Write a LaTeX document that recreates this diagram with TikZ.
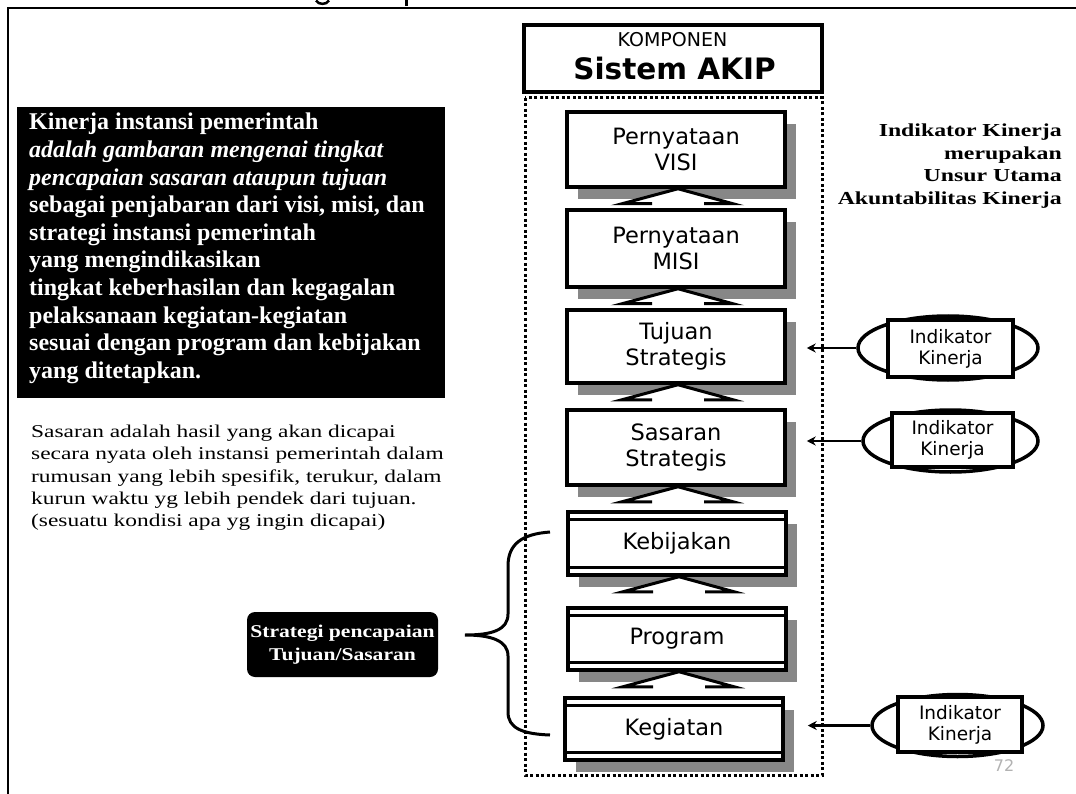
\documentclass[tikz,border=0pt]{standalone}
\usepackage{fontspec}
\setmainfont{Liberation Serif}
\newfontfamily\vsans{DejaVu Sans}
\newfontfamily\wideserif[FakeStretch=1.3]{Liberation Serif}
\newfontfamily\midserif[FakeStretch=1.2]{Liberation Serif}
\usetikzlibrary{shapes.geometric,arrows.meta,calc,shadows}
\definecolor{shgray}{RGB}{135,135,135}
\begin{document}
\begin{tikzpicture}[x=1pt,y=-1pt,
  stagebox/.style={draw, line width=3.5, fill=white, minimum width=218, minimum height=#1,
    inner sep=0, font=\vsans\fontsize{22.5}{25.5}\selectfont, align=center,
    general shadow={fill=shgray, shadow xshift=11pt, shadow yshift=-12pt}},
  uparrow/.style={draw, line width=3, fill=white, line join=miter},
  indell/.style={draw, ellipse, line width=3.5, fill=white, inner sep=0},
  indrect/.style={draw, rectangle, line width=3.5, fill=white, inner sep=0,
    font=\vsans\fontsize{18.5}{21}\selectfont, align=center},
  indarrow/.style={line width=2.5, -{Stealth[length=9pt,width=9pt]}},
  innerline/.style={line width=3}
]
\useasboundingbox (0,0) rectangle (1076,794);
\fill[white] (0,0) rectangle (1076,794);
% frame
\draw[line width=2] (8,794) -- (8,8) -- (1076,8);
% cut-off title descenders
\draw[line width=2.5] (316,0.5) .. controls (318,5) and (327,5) .. (329,0.5);
\draw[line width=3] (406,0) -- (406,6);

% KOMPONEN header
\node[draw, line width=4, minimum width=298, minimum height=67, inner sep=0]
  (komp) at (672.5,58.5) {};
\node[font=\vsans\fontsize{19}{19}\selectfont] (kompt) at (672.5,39.5) {KOMPONEN};
\node[font=\vsans\bfseries\fontsize{29.5}{29.5}\selectfont] (akip) at (674.5,69) {Sistem AKIP};

% dotted frame
\draw[line width=3, dash pattern=on 3pt off 2.5pt] (525,98) rectangle (822,775);

% stage boxes
\node[stagebox=75] (visi) at (676,149.5) {Pernyataan\\VISI};
\node[stagebox=77] (misi) at (676,248.5) {Pernyataan\\MISI};
\node[stagebox=73] (tujuan) at (676,346.5) {Tujuan\\Strategis};
\node[stagebox=75] (sasaran) at (676,447.5) {Sasaran\\Strategis};
\node[stagebox=63] (kebijakan) at (677,543.5) {Kebijakan};
\node[stagebox=62] (program) at (677,639) {Program};
\node[stagebox=62] (kegiatan) at (674,729) {Kegiatan};
\foreach \b in {kebijakan,program,kegiatan}{
  \draw[innerline] ([yshift=-9.5]\b.north west) -- ([yshift=-9.5]\b.north east);
  \draw[innerline] ([yshift=9.5]\b.south west) -- ([yshift=9.5]\b.south east);
}

% up arrows
\foreach \lo/\hi in {misi/visi,tujuan/misi,sasaran/tujuan,kebijakan/sasaran,program/kebijakan,kegiatan/program}{
  \draw[uparrow] ($(\hi.south)+(-24,15)$ |- \lo.north) -- ($(\hi.south)+(-24,15)$)
    -- ($(\hi.south)+(-54,15)$) -- ($(\hi.south)+(2,0)$) -- ($(\hi.south)+(57,15)$)
    -- ($(\hi.south)+(28,15)$) -- ($(\hi.south)+(28,15)$ |- \lo.north);
}

% indicator shapes
\node[indell, minimum width=180, minimum height=64] (ind1e) at (948,348) {};
\node[indrect, minimum width=125, minimum height=57] (ind1) at (950.5,348.5) {Indikator\\Kinerja};
\node[indell, minimum width=175, minimum height=62] (ind2e) at (950.5,441) {};
\node[indrect, minimum width=121, minimum height=54] (ind2) at (952.5,440) {Indikator\\Kinerja};
\node[text=gray!60, font=\vsans\fontsize{16}{16}\selectfont] (pg) at (1004,766) {72};
\node[indell, minimum width=171, minimum height=62] (ind3e) at (957.5,725.5) {};
\node[indrect, minimum width=124, minimum height=55] (ind3) at (960,724.5) {Indikator\\Kinerja};

\draw[indarrow] (ind1e.west) -- ([xshift=20]ind1e.west -| tujuan.east);
\draw[indarrow] (ind2e.west) -- ([xshift=20]ind2e.west -| sasaran.east);
\draw[indarrow] (ind3e.west) -- ([xshift=23]ind3e.west -| kegiatan.east);

% right text
\node[anchor=north east, align=right, inner sep=0,
  font=\wideserif\bfseries\fontsize{18.3}{22.7}\selectfont] (unsur) at (1062,123.5)
  {Indikator Kinerja\\merupakan\\Unsur Utama\\Akuntabilitas Kinerja};

% black definition box
\node[fill=black, minimum width=428, minimum height=291, inner sep=0] (defbox) at (231,252.5) {};
\node[anchor=north west, align=left, inner sep=0, text=white,
  font=\bfseries\fontsize{24}{27.6}\selectfont] (deftext) at (29,113)
  {Kinerja instansi pemerintah\\
   {\itshape adalah gambaran mengenai tingkat}\\
   {\itshape pencapaian sasaran ataupun tujuan}\\
   sebagai penjabaran dari visi, misi, dan\\
   strategi instansi pemerintah\\
   yang mengindikasikan\\
   tingkat keberhasilan dan kegagalan\\
   pelaksanaan kegiatan-kegiatan\\
   sesuai dengan program dan kebijakan\\
   yang ditetapkan.};

% sasaran definition
\node[anchor=north west, align=left, inner sep=0,
  font=\wideserif\fontsize{18}{22.25}\selectfont] (sasdef) at (31,425)
  {Sasaran adalah hasil yang akan dicapai\\
   secara nyata oleh instansi pemerintah dalam\\
   rumusan yang lebih spesifik, terukur, dalam\\
   kurun waktu yg lebih pendek dari tujuan.\\
   (sesuatu kondisi apa yg ingin dicapai)};

% strategi box
\node[fill=black, rounded corners=8, minimum width=191, minimum height=65, inner sep=0,
  text=white, align=center, font=\midserif\bfseries\fontsize{18}{23}\selectfont] (strat) at (342.5,644.5)
  {Strategi pencapaian\\Tujuan/Sasaran};

% brace
\draw[line width=3] (550,532) .. controls (522,534) and (508,544) .. (508,566)
  -- (508,614) .. controls (508,630) and (492,635) .. (465,635)
  .. controls (492,635) and (508,641) .. (508,656)
  -- (508,712) .. controls (508,728) and (522,734) .. (550,735);
\end{tikzpicture}
\end{document}
